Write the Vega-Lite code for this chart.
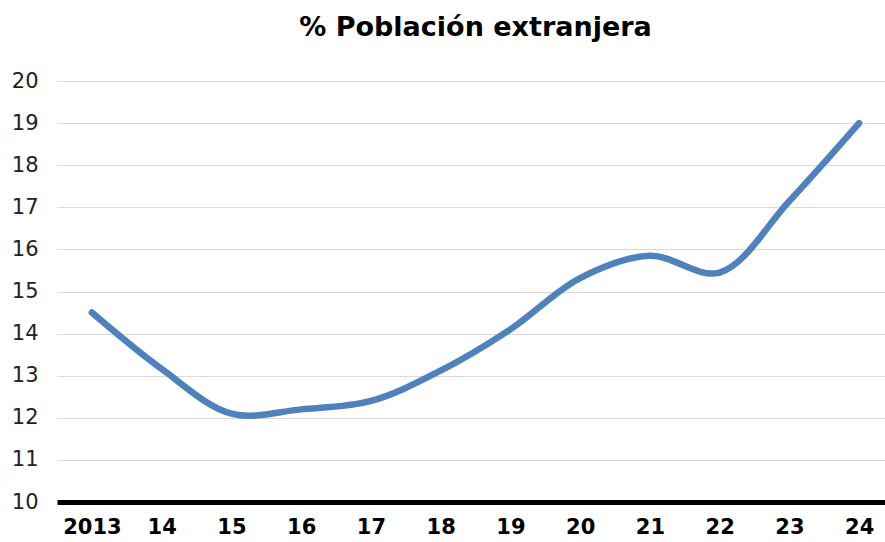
{
  "$schema": "https://vega.github.io/schema/vega-lite/v6.json",
  "width": 837,
  "height": 421,
  "autosize": {"type": "none"},
  "padding": {"left": 57, "top": 81, "right": 0, "bottom": 40},
  "background": "white",
  "title": {
    "text": "% Población extranjera",
    "font": "DejaVu Sans",
    "fontSize": 27,
    "fontWeight": "bold",
    "color": "#000000",
    "anchor": "middle",
    "offset": 28
  },
  "data": {
    "values": [
      {"year": "2013", "pct": 14.5},
      {"year": "14", "pct": 13.16},
      {"year": "15", "pct": 12.1},
      {"year": "16", "pct": 12.2},
      {"year": "17", "pct": 12.4},
      {"year": "18", "pct": 13.12},
      {"year": "19", "pct": 14.1},
      {"year": "20", "pct": 15.32},
      {"year": "21", "pct": 15.85},
      {"year": "22", "pct": 15.45},
      {"year": "23", "pct": 17.15},
      {"year": "24", "pct": 19.0}
    ]
  },
  "mark": {
    "type": "line",
    "interpolate": "catmull-rom",
    "color": "#4f81bd",
    "strokeWidth": 6.5,
    "strokeCap": "round",
    "strokeJoin": "round"
  },
  "encoding": {
    "x": {
      "field": "year",
      "type": "ordinal",
      "sort": null,
      "scale": {"type": "point", "padding": 0.5},
      "axis": {
        "title": null,
        "labelAngle": 0,
        "ticks": false,
        "grid": false,
        "domainColor": "#000000",
        "domainWidth": 5,
        "labelFont": "DejaVu Sans",
        "labelFontSize": 21,
        "labelFontWeight": "bold",
        "labelColor": "#000000",
        "labelPadding": 14
      }
    },
    "y": {
      "field": "pct",
      "type": "quantitative",
      "scale": {"domain": [10, 20], "nice": false, "zero": false},
      "axis": {
        "title": null,
        "values": [10, 11, 12, 13, 14, 15, 16, 17, 18, 19, 20],
        "ticks": false,
        "domain": false,
        "grid": true,
        "gridColor": "#d9d9d9",
        "gridWidth": 1,
        "labelFont": "DejaVu Sans",
        "labelFontSize": 21,
        "labelColor": "#222222",
        "labelPadding": 19
      }
    }
  },
  "config": {"view": {"stroke": null}}
}
